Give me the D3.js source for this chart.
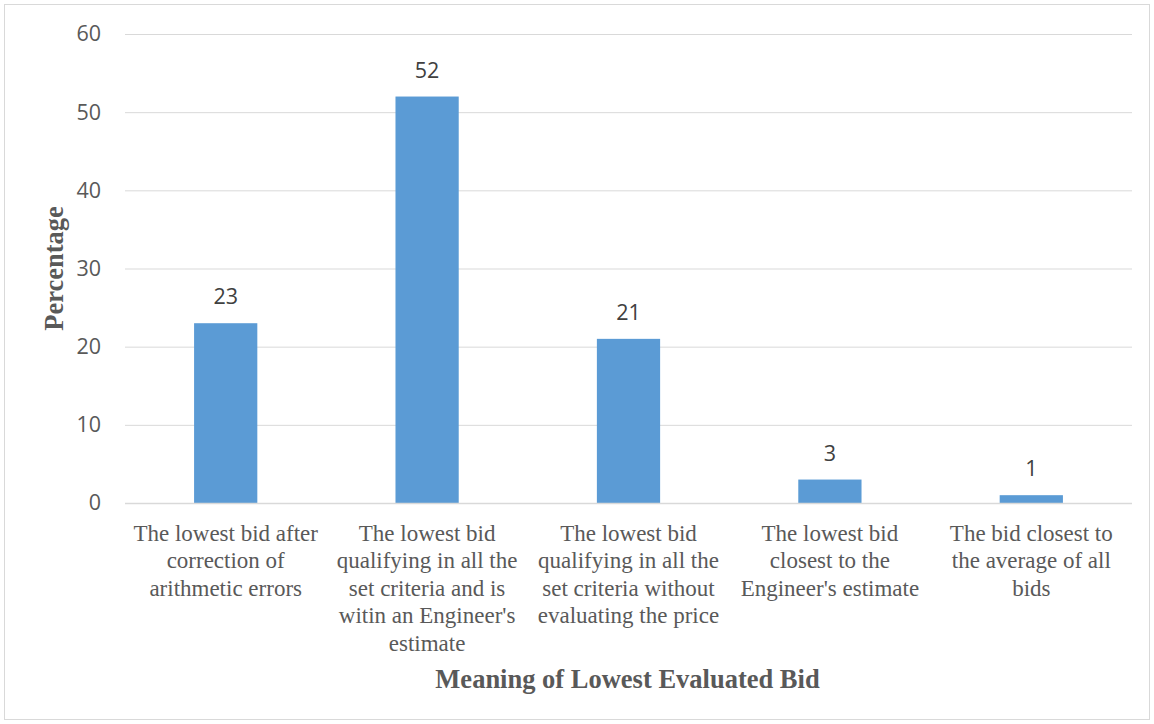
<!DOCTYPE html>
<html>
<head>
<meta charset="utf-8">
<script src="https://cdn.jsdelivr.net/npm/d3@7"></script>
<style>
  html, body { margin: 0; padding: 0; background: #fff; }
  svg { display: block; }
</style>
</head>
<body>
<svg id="chart" width="1154" height="724"></svg>
<script>
// Survey results: meaning of "lowest evaluated bid"
const categories = [
  ["The lowest bid after", "correction of", "arithmetic errors"],
  ["The lowest bid", "qualifying in all the", "set criteria and is", "witin an Engineer's", "estimate"],
  ["The lowest bid", "qualifying in all the", "set criteria without", "evaluating the price"],
  ["The lowest bid", "closest to the", "Engineer's estimate"],
  ["The bid closest to", "the average of all", "bids"]
];
const values = [23, 52, 21, 3, 1];
const yTicks = [0, 10, 20, 30, 40, 50, 60];
const yTitle = "Percentage";
const xTitle = "Meaning of Lowest Evaluated Bid";

const svg = d3.select("#chart");
const W = 1154, H = 724;
const plot = { left: 125, right: 1132, top: 34, bottom: 503 };

// chart frame
svg.append("rect")
  .attr("x", 4.5).attr("y", 4.5)
  .attr("width", W - 9).attr("height", H - 9)
  .attr("fill", "#fff").attr("stroke", "#d9d9d9").attr("stroke-width", 1);

const idx = categories.map((d, i) => i);
const x = d3.scaleBand().domain(idx).range([plot.left, plot.right]).paddingInner(0.686).paddingOuter(0.343);
const y = d3.scaleLinear().domain([0, 60]).range([plot.bottom, plot.top]);

// gridlines
svg.append("g").selectAll("line").data(yTicks.filter(t => t > 0)).join("line")
  .attr("x1", plot.left).attr("x2", plot.right)
  .attr("y1", d => y(d) + 0.5).attr("y2", d => y(d) + 0.5)
  .attr("stroke", "#d9d9d9").attr("stroke-width", 1);

// y axis tick labels
const yAxis = d3.axisLeft(y).tickValues(yTicks).tickSize(0).tickPadding(0);
const yg = svg.append("g").attr("transform", `translate(${plot.left - 24},0)`).call(yAxis);
yg.select(".domain").remove();
yg.selectAll("text")
  .attr("font-family", "'Open Sans', 'Noto Sans', sans-serif")
  .attr("font-size", 21.5).attr("fill", "#595959");

// bars
svg.append("g").selectAll("rect").data(values).join("rect")
  .attr("x", (d, i) => x(i))
  .attr("width", x.bandwidth())
  .attr("y", d => y(d))
  .attr("height", d => y(0) - y(d))
  .attr("fill", "#5b9bd5");

// value labels
svg.append("g").selectAll("text").data(values).join("text")
  .attr("x", (d, i) => x(i) + x.bandwidth() / 2)
  .attr("y", d => y(d) - 19)
  .attr("text-anchor", "middle")
  .attr("font-family", "'Open Sans', 'Noto Sans', sans-serif")
  .attr("font-size", 21.5).attr("fill", "#404040")
  .text(d => d);

// baseline
svg.append("line")
  .attr("x1", plot.left).attr("x2", plot.right)
  .attr("y1", y(0) + 0.5).attr("y2", y(0) + 0.5)
  .attr("stroke", "#d9d9d9").attr("stroke-width", 1.5);

// category labels
const catG = svg.append("g");
categories.forEach((lines, i) => {
  const cx = x(i) + x.bandwidth() / 2;
  const t = catG.append("text")
    .attr("x", cx)
    .attr("y", 541)
    .attr("text-anchor", "middle")
    .attr("font-family", "'Liberation Serif', 'Times New Roman', serif")
    .attr("font-size", 23).attr("fill", "#595959");
  lines.forEach((ln, j) => {
    t.append("tspan").attr("x", cx).attr("y", 541 + j * 27.4).text(ln);
  });
});

// axis titles
svg.append("text")
  .attr("x", (plot.left + plot.right) / 2 - 1)
  .attr("y", 688)
  .attr("text-anchor", "middle")
  .attr("font-family", "'Liberation Serif', 'Times New Roman', serif")
  .attr("font-size", 26.5).attr("font-weight", "bold").attr("fill", "#595959")
  .text(xTitle);

svg.append("text")
  .attr("transform", `translate(63,${(plot.top + plot.bottom) / 2}) rotate(-90)`)
  .attr("text-anchor", "middle")
  .attr("font-family", "'Liberation Serif', 'Times New Roman', serif")
  .attr("font-size", 26.5).attr("font-weight", "bold").attr("fill", "#595959")
  .text(yTitle);
</script>
</body>
</html>
